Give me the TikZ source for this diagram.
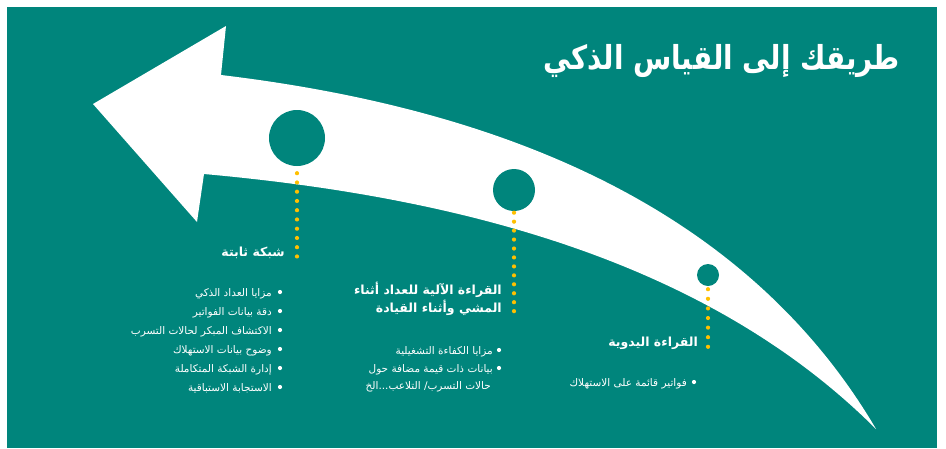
\documentclass[tikz,border=0pt]{standalone}
\usepackage{fontspec}
\newfontfamily\arabicfont[Script=Arabic]{DejaVu Sans}
\TeXXeTstate=1
\usetikzlibrary{calc}
\definecolor{teal1}{HTML}{00857C}
\definecolor{gold1}{HTML}{FFC000}
\begin{document}
\begin{tikzpicture}[x=1pt,y=-1pt,
  hole/.style={circle, fill=teal1, inner sep=0pt},
  dotsty/.style={draw=gold1, line width=4.2pt, line cap=round, dash pattern=on 0pt off #1},
  titletxt/.style={text=white, inner sep=0pt, font=\arabicfont\bfseries\fontsize{33}{38}\selectfont},
  headtxt/.style={text=white, inner sep=0pt, font=\arabicfont\bfseries\fontsize{12.5}{18}\selectfont},
  bultxt/.style={text=white, inner sep=0pt, font=\arabicfont\fontsize{10.5}{18}\selectfont},
  bul/.style={fill=white, circle, inner sep=0pt, minimum size=4.2pt}
]
\useasboundingbox (0,0) rectangle (946,448);
\fill[white] (0,0) rectangle (946,448);
\fill[teal1] (7,7) rectangle (937,448);

% arrow
\fill[white] (93,104) -- (226,26) -- (221,75)
  .. controls (471,105) and (736,191) .. (876,429)
  .. controls (706,259) and (454,196.5) .. (204,174)
  -- (197,222) -- cycle;

% holes
\node[hole, minimum size=56pt] (c1) at (297,138) {};
\node[hole, minimum size=42pt] (c2) at (514,190) {};
\node[hole, minimum size=22pt] (c3) at (708,275) {};

% title
\node[titletxt, anchor=base east] (title) at (900,69) {\scalebox{0.84}[1]{\beginR طريقك إلى القياس الذكي\endR}};

% headings
\node[headtxt, anchor=base east] (h1) at (285,256) {\beginR شبكة ثابتة\endR};
\node[headtxt, anchor=base east, align=right] (h2) at (502,312) {\beginR القراءة الآلية للعداد أثناء\endR\\\beginR المشي وأثناء القيادة\endR};
\node[headtxt, anchor=base east] (h3) at (698,346) {\beginR القراءة اليدوية\endR};

% dotted connectors
\coordinate (e1) at (297,256.5);
\coordinate (e2) at (514,311.5);
\coordinate (e3) at (708,347.5);
\draw[dotsty=9.25pt] ([yshift=-7pt]c1.south) -- (e1);
\draw[dotsty=8.95pt] ([yshift=-1.5pt]c2.south) -- (e2);
\draw[dotsty=9.6pt] ([yshift=-3pt]c3.south) -- (e3);

% left bullets
\foreach \t/\y [count=\i] in {مزايا العداد الذكي/292, دقة بيانات الفواتير/311, الاكتشاف المبكر لحالات التسرب/330, وضوح بيانات الاستهلاك/349, إدارة الشبكة المتكاملة/368, الاستجابة الاستباقية/387}{
  \node[bul] (lb\i) at (280,\y) {};
  \node[bultxt, anchor=base east] (lt\i) at (272,\y+4) {\beginR\t\endR};
}
% middle bullets
\node[bul] (mb1) at (499,350) {};
\node[bultxt, anchor=base east] (mt1) at (493,354) {\beginR مزايا الكفاءة التشغيلية\endR};
\node[bul] (mb2) at (499,368) {};
\node[bultxt, anchor=base east] (mt2) at (493,372) {\beginR بيانات ذات قيمة مضافة حول\endR};
\node[bultxt, anchor=base east] (mt3) at (491,389) {\beginR حالات التسرب/ التلاعب...الخ\endR};
% right bullet
\node[bul] (rb1) at (694,382) {};
\node[bultxt, anchor=base east] (rt1) at (687,386) {\beginR فواتير قائمة على الاستهلاك\endR};
\end{tikzpicture}
\end{document}
